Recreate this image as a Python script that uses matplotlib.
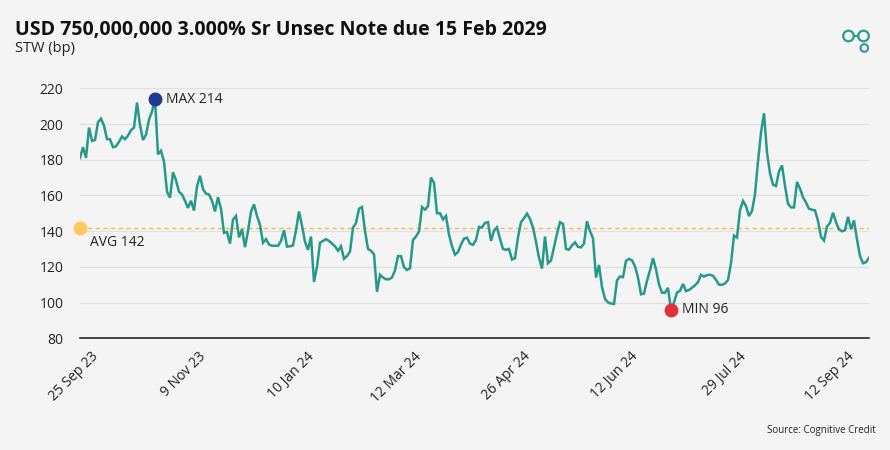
import matplotlib
matplotlib.use("Agg")
import matplotlib.pyplot as plt
from matplotlib.patches import Circle
import numpy as np

title = "USD 750,000,000 3.000% Sr Unsec Note due 15 Feb 2029"
subtitle = "STW (bp)"
source = "Source: Cognitive Credit"

tick_labels = ['25 Sep 23', '9 Nov 23', '10 Jan 24', '12 Mar 24',
               '26 Apr 24', '12 Jun 24', '29 Jul 24', '12 Sep 24']

stw = [
    181, 187, 181, 198, 190.5, 191, 201, 203, 199, 191.5,
    191.5, 187, 187.5, 190, 193, 191.5, 193.5, 196.5, 198, 212,
    199.5, 191, 194, 202.5, 207, 214, 183, 185, 179, 162,
    158.7, 173, 168.5, 162, 160.5, 157, 153, 157, 151.5, 165,
    171, 163.5, 161, 160.5, 157, 151, 159, 152.5, 139, 139.5,
    133, 146.5, 148.5, 136.5, 141, 131, 140, 151, 155, 148.5,
    143.5, 133.5, 135.5, 132.5, 131.8, 131.8, 131.8, 134.5, 140.5, 131.3,
    131.5, 132, 140.5, 151, 143, 134, 129.5, 137, 111.5, 120,
    133.5, 134.5, 135.5, 134.5, 133, 131.5, 129, 131.5, 124.5, 126,
    128.5, 142, 144.5, 152.5, 153.5, 140, 130, 129, 127, 106,
    115.5, 114, 113, 113, 114, 118, 126, 126, 119.8, 118.2,
    119.2, 135, 137, 139.8, 153.5, 152, 154, 170, 167, 150,
    150, 146.5, 148.5, 138, 131.5, 126.8, 128.3, 132.5, 135.8, 136.3,
    133, 132.3, 135, 142.4, 142, 144.6, 145, 134.5, 140.2, 142.1,
    135.6, 130, 129.5, 130, 124.1, 124.8, 136.6, 145, 147.2, 149.8,
    146.8, 142, 134, 125, 119, 137, 122, 123.5, 131, 138.5,
    145, 144, 130, 129.6, 132, 133.7, 131.2, 130.9, 133, 145.5,
    140, 136, 114, 121, 108.7, 102, 100.1, 99.4, 99.2, 112.4,
    114.6, 114.2, 123.4, 124.4, 123.6, 120.3, 114, 104.6, 105, 112.2,
    118, 124.8, 118.6, 110.1, 105.5, 105.5, 108.2, 96, 100, 105.6,
    106.5, 110.4, 106.4, 107, 108.3, 109.6, 111.4, 115.5, 114.5, 115.4,
    115.5, 115, 112.7, 110, 109.9, 110.7, 112.6, 122, 137.5, 136.4,
    151.8, 156.9, 154, 148.4, 151.3, 160.6, 178.9, 195.2, 206, 184,
    172.4, 166, 165.3, 173.4, 176.8, 165.4, 155.3, 153.3, 153.3, 167.5,
    163.8, 159, 156, 152.5, 152, 151.6, 145.7, 136.8, 134.7, 142.6,
    144.6, 150.3, 145, 140.9, 139.9, 140.5, 148, 141, 146, 135.3,
    126, 122, 122.6, 125.1,
]
avg_value = 142

y_ticks = [80, 100, 120, 140, 160, 180, 200, 220]

BG = "#f4f4f4"
LINE = "#25998c"
TEXT = "#222222"

plt.rcParams['font.family'] = ['Open Sans', 'DejaVu Sans']

W, H = 890, 450
fig = plt.figure(figsize=(W / 100, H / 100), dpi=100, facecolor=BG)

x = np.arange(len(stw))
ax = fig.add_axes([80 / W, 1 - 338.2 / H, 789 / W, (338.2 - 88.3) / H])
ax.set_facecolor(BG)
ax.set_xlim(0, len(stw) - 1)
ax.set_ylim(80, 220)

for yv in y_ticks[1:]:
    ax.axhline(yv, color="#e1e1e1", lw=1, zorder=1)
ax.axhline(80, color="#111111", lw=1.1, zorder=2, clip_on=False)

ax.axhline(avg_value, color="#f5b942", lw=1, ls=(0, (3, 2.5)), zorder=2)
ax.plot(x, stw, color=LINE, lw=1.8, zorder=3, solid_joinstyle='miter')

imax = int(np.argmax(stw))
imin = int(np.argmin(stw))
ax.plot([imax], [stw[imax]], 'o', color="#1f3a8f", ms=9, zorder=5, clip_on=False)
ax.plot([imin], [stw[imin]], 'o', color="#e03137", ms=9, zorder=5, clip_on=False)
ax.plot([0], [avg_value], 'o', color="#fdc85c", ms=9, zorder=5, clip_on=False)

ax.annotate(f"MAX {stw[imax]:.0f}", (imax, stw[imax]), xytext=(8, 0),
            textcoords='offset points', va='center', ha='left', fontsize=10, color=TEXT)
ax.annotate(f"MIN {stw[imin]:.0f}", (imin, stw[imin]), xytext=(8, 0),
            textcoords='offset points', va='center', ha='left', fontsize=10, color=TEXT)
ax.annotate(f"AVG {avg_value}", (0, avg_value), xytext=(7, -11),
            textcoords='offset points', va='center', ha='left', fontsize=10, color=TEXT)

for s in ax.spines.values():
    s.set_visible(False)

ax.set_yticks(y_ticks)
ax.set_yticklabels([str(v) for v in y_ticks], fontsize=10, color=TEXT)
tick_pos = [3.5 + 36 * k for k in range(len(tick_labels))]
ax.set_xticks(tick_pos)
ax.set_xticklabels(tick_labels, rotation=45, ha='right', va='top',
                   rotation_mode='anchor', fontsize=10, color=TEXT)
ax.tick_params(axis='both', length=0)
ax.tick_params(axis='y', pad=12)
ax.tick_params(axis='x', pad=8)

fig.text(15 / W, 1 - 30 / H, title, fontsize=14, fontweight='bold',
         color="#111111", va='center', ha='left')
fig.text(15 / W, 1 - 48 / H, subtitle, fontsize=10.5, color=TEXT,
         va='center', ha='left')
fig.text(876 / W, 1 - 430 / H, source, fontsize=7, color=TEXT,
         va='center', ha='right')

# logo
lax = fig.add_axes([0, 0, 1, 1], facecolor='none')
lax.set_xlim(0, W)
lax.set_ylim(H, 0)
lax.axis('off')
logo = "#2a9d8f"
lax.add_patch(Circle((848.5, 36), 5.3, fill=False, ec=logo, lw=1.6))
lax.add_patch(Circle((863.5, 36), 5.3, fill=False, ec=logo, lw=1.6))
lax.add_patch(Circle((864.3, 48), 3.8, fill=False, ec=logo, lw=1.5))
lax.plot([853.8, 858.2], [36, 36], color=logo, lw=1.6)

fig.savefig("out.png", dpi=100, facecolor=BG)
